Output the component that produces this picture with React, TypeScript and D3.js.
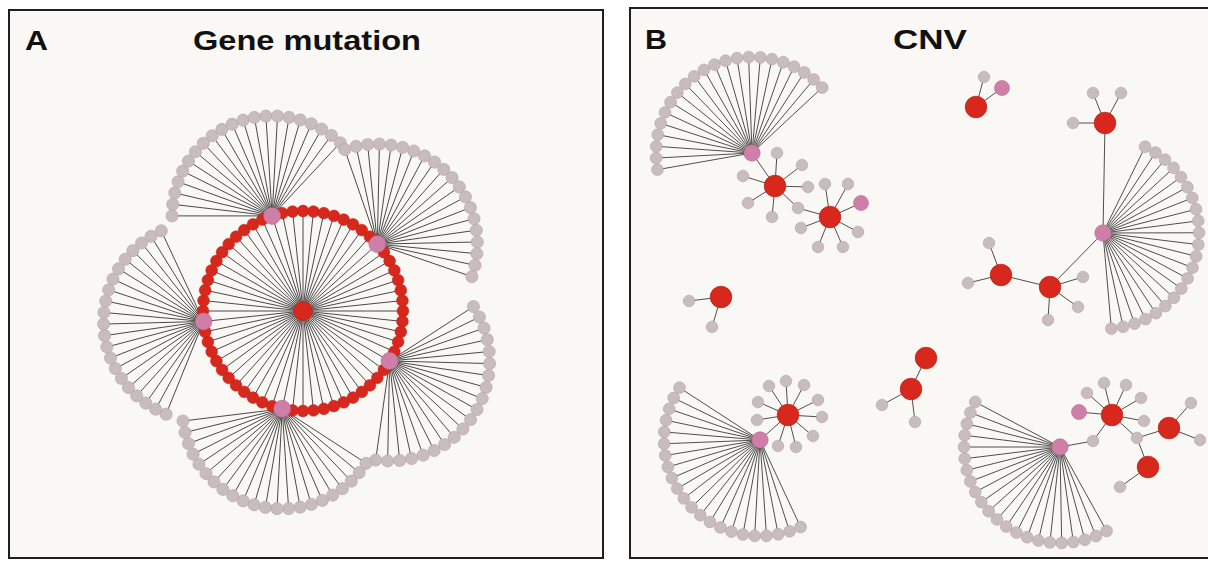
import React from "react";
import * as d3 from "d3";

const W = 1208;
const H = 562;

// ---------- Panel A: Gene mutation ----------
const ringSlotCount = 60; // genes on the ring around the central node
const hubSlots = [5, 17, 29, 42, 53]; // ring slots that are hub (pink) nodes
const hubFanLeaves = [20, 22, 21, 21, 20]; // partners of each hub
const hubFanArcs: [number, number][] = [
  [-33, 98],
  [33, 173],
  [112, 245],
  [180, 313],
  [251, 379],
];

// ---------- Panel B: CNV ----------
const cnvHubs: { id: string; x: number; y: number; leaves: number; arc: [number, number] }[] = [
  { id: "P1", x: 123, y: 153, leaves: 22, arc: [170, 317] },
  { id: "P2", x: 474, y: 233, leaves: 22, arc: [-64, 85] },
  { id: "P3", x: 131, y: 440, leaves: 22, arc: [65, 213] },
  { id: "P4", x: 431, y: 447, leaves: 22, arc: [61, 208] },
];
const cnvGenes: [string, number, number][] = [
  ["R1", 146, 186], ["R2", 201, 217], ["R3", 347, 107], ["R4", 476, 123],
  ["R5", 421, 287], ["R6", 372, 275], ["R7", 92, 297], ["R8", 297, 358],
  ["R9", 282, 389], ["R10", 159, 415], ["R11", 483, 415], ["R12", 540, 428],
  ["R13", 519, 467],
];
const cnvPinkPartners: [string, number, number][] = [
  ["Q1", 232, 203], ["Q2", 373, 88], ["Q3", 450, 412],
];
const cnvPartners: [string, number, number][] = [
  ["a1", 148, 153], ["a2", 173, 165], ["a3", 179, 187], ["a4", 143, 217], ["a5", 119, 203], ["a6", 114, 176],
  ["s1", 169, 208],
  ["b1", 196, 184], ["b2", 219, 184], ["b3", 229, 232], ["b4", 214, 247], ["b5", 189, 247], ["b6", 172, 228],
  ["c1", 355, 77],
  ["d1", 464, 93], ["d2", 492, 93], ["d3", 444, 123],
  ["e1", 454, 277], ["e2", 449, 307], ["e3", 419, 320],
  ["f1", 360, 243], ["f2", 339, 283],
  ["g1", 60, 301], ["g2", 83, 327],
  ["h1", 253, 405], ["h2", 286, 422],
  ["k1", 157, 381], ["k2", 175, 385], ["k3", 140, 386], ["k4", 189, 400], ["k5", 193, 417],
  ["k6", 184, 436], ["k7", 167, 447], ["k8", 149, 446], ["k9", 128, 420], ["k10", 129, 402],
  ["m1", 458, 393], ["m2", 475, 383], ["m3", 497, 385], ["m4", 512, 398], ["m5", 515, 421],
  ["s2", 508, 438], ["s3", 464, 441],
  ["n1", 562, 403], ["n2", 571, 440],
  ["o1", 491, 487],
];
const cnvLinks: [string, string][] = [
  ["P1", "R1"], ["R1", "a1"], ["R1", "a2"], ["R1", "a3"], ["R1", "a4"], ["R1", "a5"], ["R1", "a6"], ["R1", "s1"],
  ["R2", "s1"], ["R2", "b1"], ["R2", "b2"], ["R2", "Q1"], ["R2", "b3"], ["R2", "b4"], ["R2", "b5"], ["R2", "b6"],
  ["R3", "c1"], ["R3", "Q2"],
  ["R4", "d1"], ["R4", "d2"], ["R4", "d3"], ["R4", "P2"],
  ["P2", "R5"], ["R5", "e1"], ["R5", "e2"], ["R5", "e3"], ["R5", "R6"], ["R6", "f1"], ["R6", "f2"],
  ["R7", "g1"], ["R7", "g2"],
  ["R8", "R9"], ["R9", "h1"], ["R9", "h2"],
  ["P3", "R10"], ["R10", "k1"], ["R10", "k2"], ["R10", "k3"], ["R10", "k4"], ["R10", "k5"],
  ["R10", "k6"], ["R10", "k7"], ["R10", "k8"], ["R10", "k9"], ["R10", "k10"],
  ["R11", "Q3"], ["R11", "m1"], ["R11", "m2"], ["R11", "m3"], ["R11", "m4"], ["R11", "m5"],
  ["R11", "s2"], ["R11", "s3"], ["s3", "P4"], ["s2", "R12"], ["s2", "R13"],
  ["R12", "n1"], ["R12", "n2"], ["R13", "o1"],
];

// ---------- styles ----------
const RED = "#d8281d";
const RED_STROKE = "#b91e16";
const PINK = "#cf7fa7";
const PINK_STROKE = "#b8678f";
const GREY = "#c8bcbc";
const GREY_STROKE = "#b2a5a5";
const EDGE = "#2a2a2a";
const PANEL_BG = "#faf8f4";
const FONT = "'Liberation Sans', Arial, Helvetica, sans-serif";

type Pt = { x: number; y: number };
const rad = (deg: number) => (deg * Math.PI) / 180;

function fanLeaves(cx: number, cy: number, n: number, arc: [number, number], r: number): Pt[] {
  const a = d3.scaleLinear().domain([0, n - 1]).range(arc);
  return d3.range(n).map((i) => ({ x: cx + r * Math.cos(rad(a(i))), y: cy + r * Math.sin(rad(a(i))) }));
}

function PanelA() {
  // data units: ring radius = 100 around centre (0,0)
  const x = d3.scaleLinear().domain([-100, 100]).range([203, 403]);
  const y = d3.scaleLinear().domain([-100, 100]).range([211, 411]);
  const ringR = 100;
  const fanR = 100;
  const slotAngle = d3.scaleLinear().domain([0, ringSlotCount]).range([0, 360]);
  const ring = d3.range(ringSlotCount).map((i) => ({
    i,
    x: ringR * Math.cos(rad(slotAngle(i))),
    y: ringR * Math.sin(rad(slotAngle(i))),
    hub: hubSlots.includes(i),
  }));
  const fans = hubSlots.map((s, k) => {
    const h = ring[s];
    return { hub: h, leaves: fanLeaves(h.x, h.y, hubFanLeaves[k], hubFanArcs[k], fanR) };
  });
  return (
    <g>
      <g stroke={EDGE} strokeWidth={1} strokeOpacity={0.85}>
        {ring.map((n) => (
          <line key={"s" + n.i} x1={x(0)} y1={y(0)} x2={x(n.x)} y2={y(n.y)} />
        ))}
        {fans.map((f, k) =>
          f.leaves.map((l, j) => (
            <line key={`f${k}-${j}`} x1={x(f.hub.x)} y1={y(f.hub.y)} x2={x(l.x)} y2={y(l.y)} />
          ))
        )}
      </g>
      {fans.map((f, k) =>
        f.leaves.map((l, j) => (
          <circle key={`fl${k}-${j}`} cx={x(l.x)} cy={y(l.y)} r={6.1} fill={GREY} stroke={GREY_STROKE} strokeWidth={0.6} />
        ))
      )}
      {ring
        .filter((n) => !n.hub)
        .map((n) => (
          <circle key={"r" + n.i} cx={x(n.x)} cy={y(n.y)} r={5.9} fill={RED} stroke={RED_STROKE} strokeWidth={0.5} />
        ))}
      {ring
        .filter((n) => n.hub)
        .map((n) => (
          <circle key={"h" + n.i} cx={x(n.x)} cy={y(n.y)} r={8.5} fill={PINK} stroke={PINK_STROKE} strokeWidth={0.6} />
        ))}
      <circle cx={x(0)} cy={y(0)} r={9.5} fill={RED} stroke={RED_STROKE} strokeWidth={0.6} />
    </g>
  );
}

function PanelB() {
  const x = d3.scaleLinear().domain([0, 580]).range([629, 1209]);
  const y = d3.scaleLinear().domain([0, 562]).range([0, 562]);
  const pos = new Map<string, Pt>();
  cnvHubs.forEach((h) => pos.set(h.id, { x: h.x, y: h.y }));
  cnvGenes.forEach(([id, a, b]) => pos.set(id, { x: a, y: b }));
  cnvPinkPartners.forEach(([id, a, b]) => pos.set(id, { x: a, y: b }));
  cnvPartners.forEach(([id, a, b]) => pos.set(id, { x: a, y: b }));
  const fans = cnvHubs.map((h) => ({ hub: h, leaves: fanLeaves(h.x, h.y, h.leaves, h.arc, 96) }));
  return (
    <g>
      <g stroke={EDGE} strokeWidth={1} strokeOpacity={0.82}>
        {fans.map((f, k) =>
          f.leaves.map((l, j) => (
            <line key={`bf${k}-${j}`} x1={x(f.hub.x)} y1={y(f.hub.y)} x2={x(l.x)} y2={y(l.y)} />
          ))
        )}
        {cnvLinks.map(([s, t], i) => {
          const a = pos.get(s)!;
          const b = pos.get(t)!;
          return <line key={"l" + i} x1={x(a.x)} y1={y(a.y)} x2={x(b.x)} y2={y(b.y)} />;
        })}
      </g>
      {fans.map((f, k) =>
        f.leaves.map((l, j) => (
          <circle key={`bfl${k}-${j}`} cx={x(l.x)} cy={y(l.y)} r={5.9} fill={GREY} stroke={GREY_STROKE} strokeWidth={0.6} />
        ))
      )}
      {cnvPartners.map(([id, a, b]) => (
        <circle key={id} cx={x(a)} cy={y(b)} r={5.8} fill={GREY} stroke={GREY_STROKE} strokeWidth={0.6} />
      ))}
      {cnvPinkPartners.map(([id, a, b]) => (
        <circle key={id} cx={x(a)} cy={y(b)} r={7.5} fill={PINK} stroke={PINK_STROKE} strokeWidth={0.6} />
      ))}
      {cnvGenes.map(([id, a, b]) => (
        <circle key={id} cx={x(a)} cy={y(b)} r={10.8} fill={RED} stroke={RED_STROKE} strokeWidth={0.7} />
      ))}
      {cnvHubs.map((h) => (
        <circle key={h.id} cx={x(h.x)} cy={y(h.y)} r={8.2} fill={PINK} stroke={PINK_STROKE} strokeWidth={0.6} />
      ))}
    </g>
  );
}

export default function App() {
  return (
    <svg width={W} height={H} style={{ position: "absolute", left: 0, top: 0 }}>
      <rect x={0} y={0} width={W} height={H} fill="#ffffff" />
      <rect x={9} y={10} width={594} height={548} fill={PANEL_BG} stroke="#1f1f1f" strokeWidth={2} />
      <rect x={630} y={8} width={600} height={550} fill={PANEL_BG} stroke="#1f1f1f" strokeWidth={2} />
      <g fontFamily={FONT} fontWeight="bold" fill="#111">
        <text x={25} y={50} fontSize={28} textLength={23} lengthAdjust="spacingAndGlyphs">A</text>
        <text x={193} y={50} fontSize={28} textLength={228} lengthAdjust="spacingAndGlyphs">Gene mutation</text>
        <text x={645} y={49} fontSize={28} textLength={22} lengthAdjust="spacingAndGlyphs">B</text>
        <text x={893} y={49} fontSize={28} textLength={74} lengthAdjust="spacingAndGlyphs">CNV</text>
      </g>
      <PanelA />
      <PanelB />
    </svg>
  );
}
